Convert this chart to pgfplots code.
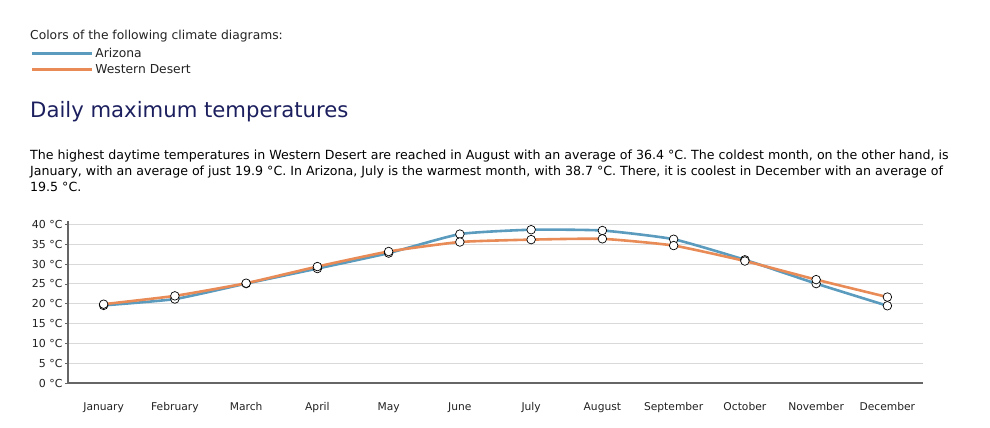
\documentclass[border=0pt]{standalone}
\usepackage{fontspec}
\setmainfont{DejaVu Sans}
\usepackage{pgfplots}
\pgfplotsset{compat=1.18}

\definecolor{azblue}{HTML}{5A9BBE}
\definecolor{wdorange}{HTML}{E88B57}
\definecolor{titleblue}{HTML}{1C1F5E}
\definecolor{axisgray}{HTML}{666666}
\definecolor{gridgray}{HTML}{D9D9D9}
\definecolor{txt}{HTML}{222222}

% monthly daily maximum temperatures (degrees C)
\pgfplotstableread{
m az wd
0 19.6 19.9
1 21.2 22.0
2 25.1 25.2
3 28.9 29.4
4 32.8 33.2
5 37.6 35.6
6 38.7 36.2
7 38.5 36.4
8 36.3 34.7
9 31.1 30.8
10 25.1 26.1
11 19.5 21.7
}\temps

\begin{document}
\begin{tikzpicture}[x=1bp,y=1bp]
\path[use as bounding box] (0,0) rectangle (990,-427);

\node[anchor=west,font=\fontsize{12.3bp}{14bp}\selectfont,text=txt,inner sep=0] at (30,-36) {Colors of the following climate diagrams:};
\node[anchor=west,font=\fontsize{21.2bp}{24bp}\selectfont,text=titleblue,inner sep=0] at (30,-112) {Daily maximum temperatures};
\node[anchor=north west,align=left,font=\fontsize{12.6bp}{16bp}\selectfont,text=black,inner sep=0] at (30,-150) {The highest daytime temperatures in Western Desert are reached in August with an average of 36.4 °C. The coldest month, on the other hand, is\\
January, with an average of just 19.9 °C. In Arizona, July is the warmest month, with 38.7 °C. There, it is coolest in December with an average of\\
19.5 °C.};

\begin{axis}[
    at={(68bp,-383bp)}, anchor=south west,
    scale only axis,
    width=855bp, height=162.4bp,
    xmin=-0.5, xmax=11.5,
    ymin=0, ymax=41,
    axis lines=left,
    axis line style={draw=axisgray, line width=1.5bp, -},
    x axis line style={line width=2bp},
    xtick={0,...,11},
    xticklabels={January,February,March,April,May,June,July,August,September,October,November,December},
    x tick style={draw=none},
    x tick label style={font=\fontsize{10.7bp}{12bp}\selectfont, text=txt, yshift=-13bp},
    ytick={0,5,...,40},
    yticklabel={\pgfmathprintnumber{\tick} °C},
    y tick label style={font=\fontsize{11bp}{12bp}\selectfont, text=txt, xshift=1bp},
    y tick style={draw=axisgray, line width=0.8bp},
    tick align=outside,
    major tick length=3bp,
    ymajorgrids,
    grid style={draw=gridgray, line width=1bp},
    /pgf/number format/assume math mode=true,
    clip=false,
    legend style={at={(-0.0444,2.078)}, anchor=north west, draw=none, fill=none,
        font=\fontsize{12.3bp}{14bp}\selectfont, text=txt,
        row sep=2bp, inner sep=0pt, cells={anchor=west}},
    legend image code/.code={\draw[#1, line width=3.2bp] (0bp,0bp) -- (60bp,0bp);},
]
\addplot[color=azblue, line width=2.6bp, smooth, tension=0.3,
    mark=*, mark size=4.3bp, mark options={fill=white, draw=black, line width=0.7bp}]
    table[x=m, y=az] {\temps};
\addlegendentry{Arizona}
\addplot[color=wdorange, line width=2.6bp, smooth, tension=0.3,
    mark=*, mark size=4.3bp, mark options={fill=white, draw=black, line width=0.7bp}]
    table[x=m, y=wd] {\temps};
\addlegendentry{Western Desert}
\end{axis}
\end{tikzpicture}
\end{document}
